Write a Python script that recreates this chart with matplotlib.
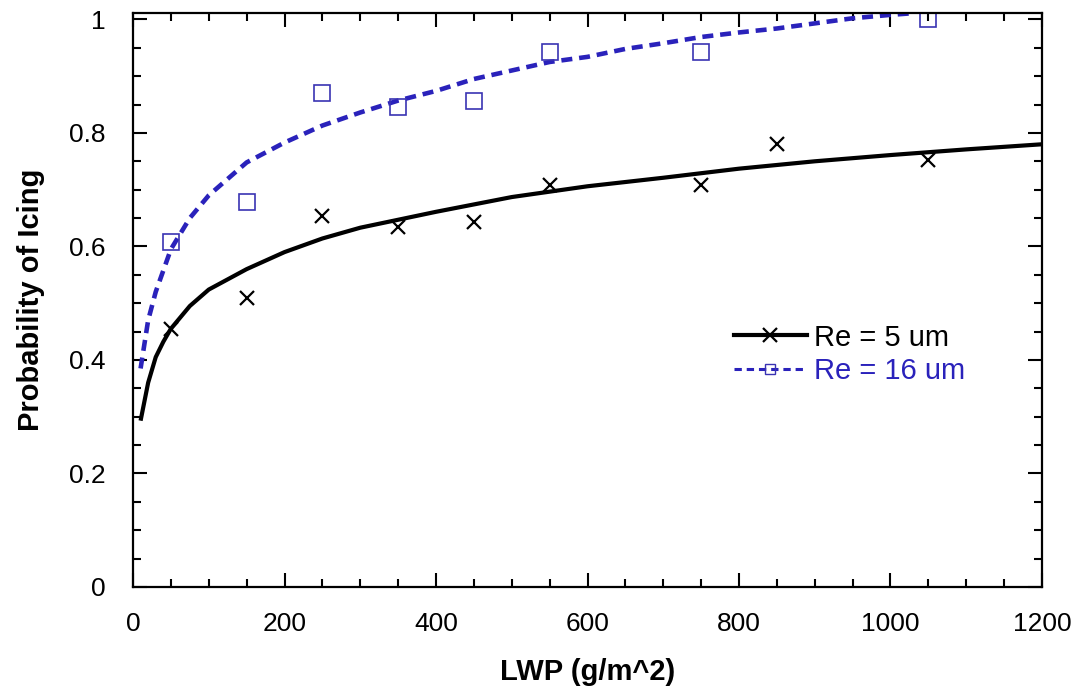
import matplotlib
matplotlib.use('Agg')
import matplotlib.pyplot as plt
from matplotlib.lines import Line2D
from matplotlib.ticker import MultipleLocator, FuncFormatter
import numpy as np

plt.rcParams['font.family'] = ['Liberation Sans', 'DejaVu Sans']

# measured icing probability at each LWP bin
lwp_obs = [50, 150, 250, 350, 450, 550, 750, 850, 1050]
prob_re5 = [0.454, 0.510, 0.654, 0.635, 0.643, 0.708, 0.708, 0.780, 0.752]
lwp_obs16 = [50, 150, 250, 350, 450, 550, 750, 1050]
prob_re16 = [0.607, 0.679, 0.870, 0.846, 0.856, 0.942, 0.943, 1.0]

# fitted curves
lwp_fit5 = [10, 20, 30, 40, 50, 75, 100, 150, 200, 250, 300, 400, 500,
            600, 700, 800, 900, 1000, 1100, 1200]
fit_re5 = [0.293, 0.360, 0.405, 0.432, 0.455, 0.495, 0.524, 0.560, 0.590,
           0.614, 0.633, 0.661, 0.687, 0.706, 0.721, 0.737, 0.750, 0.761,
           0.771, 0.780]
lwp_fit16 = [10, 20, 30, 50, 75, 100, 150, 200, 250, 300, 350, 400, 450,
             500, 550, 600, 650, 700, 750, 800, 850, 900, 950, 1000, 1030]
fit_re16 = [0.385, 0.470, 0.520, 0.595, 0.650, 0.690, 0.748, 0.783, 0.813,
            0.836, 0.857, 0.874, 0.895, 0.910, 0.925, 0.934, 0.948, 0.958,
            0.969, 0.977, 0.984, 0.993, 1.002, 1.008, 1.011]

blue = '#2a22bb'

fig = plt.figure(figsize=(10.77, 6.93), dpi=100)
ax = fig.add_axes([0.1235, 0.153, 0.844, 0.828])

ax.plot(lwp_fit5, fit_re5, color='black', lw=3.0, solid_capstyle='butt')
ax.plot(lwp_fit16, fit_re16, color=blue, lw=3.3, dashes=(2.4, 1.5),
        dash_capstyle='butt')
ax.plot(lwp_obs, prob_re5, ls='none', marker='x', ms=10, mew=1.6,
        color='black')
ax.plot(lwp_obs16, prob_re16, ls='none', marker='s', ms=11, mew=1.2,
        mfc='none', mec='#3a33b3')

ax.set_xlim(0, 1200)
ax.set_ylim(0, 1.011)
ax.xaxis.set_major_locator(MultipleLocator(200))
ax.xaxis.set_minor_locator(MultipleLocator(50))
ax.yaxis.set_major_locator(MultipleLocator(0.2))
ax.yaxis.set_minor_locator(MultipleLocator(0.05))
ax.yaxis.set_major_formatter(FuncFormatter(lambda v, p: '%g' % round(v, 2)))
ax.tick_params(which='both', direction='in', top=True, right=True,
               width=1.5, labelsize=19)
ax.tick_params(which='major', length=10)
ax.tick_params(which='minor', length=6)
ax.tick_params(axis='x', pad=18)
ax.tick_params(axis='y', pad=20)
for s in ax.spines.values():
    s.set_linewidth(1.6)

ax.set_xlabel('LWP (g/m^2)', fontsize=21, fontweight='bold', labelpad=16)
ax.set_ylabel('Probability of Icing', fontsize=21, fontweight='bold',
              labelpad=17)

handles = [
    Line2D([], [], color='black', lw=3.0, marker='x', ms=10, mew=1.6),
    Line2D([], [], color=blue, lw=2.2, dashes=(2.4, 1.6), marker='s', ms=7,
           mew=1.0, mfc='none', mec='#3a33b3'),
]
leg = ax.legend(handles, ['Re = 5 um', 'Re = 16 um'], loc='center left',
                bbox_to_anchor=(0.648, 0.405), frameon=False, fontsize=21,
                handlelength=2.5, handletextpad=0.25, labelspacing=0.2,
                borderaxespad=0)
leg.get_texts()[1].set_color(blue)

fig.savefig('out.png', dpi=100)
